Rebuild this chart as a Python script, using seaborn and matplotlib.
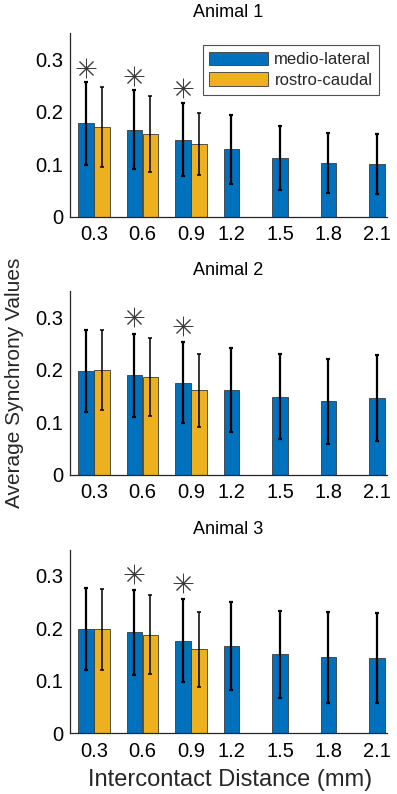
import matplotlib
matplotlib.use('Agg')
import matplotlib.pyplot as plt
import numpy as np
import pandas as pd
import seaborn as sns

distances = ['0.3', '0.6', '0.9', '1.2', '1.5', '1.8', '2.1']
directions = ['medio-lateral', 'rostro-caudal']

# animal 1
a1_ml_mean = [0.178, 0.166, 0.147, 0.128, 0.112, 0.102, 0.101]
a1_ml_sd = [0.079, 0.075, 0.070, 0.065, 0.061, 0.057, 0.057]
a1_rc_mean = [0.171, 0.157, 0.139]
a1_rc_sd = [0.076, 0.072, 0.059]
a1_star_dist = ['0.3', '0.6', '0.9']
a1_star_y = [0.284, 0.268, 0.245]

# animal 2
a2_ml_mean = [0.198, 0.190, 0.176, 0.161, 0.149, 0.140, 0.146]
a2_ml_sd = [0.078, 0.079, 0.077, 0.080, 0.081, 0.081, 0.082]
a2_rc_mean = [0.200, 0.187, 0.161]
a2_rc_sd = [0.076, 0.074, 0.070]
a2_star_dist = ['0.6', '0.9']
a2_star_y = [0.300, 0.284]

# animal 3
a3_ml_mean = [0.198, 0.193, 0.176, 0.166, 0.151, 0.145, 0.144]
a3_ml_sd = [0.078, 0.081, 0.079, 0.084, 0.083, 0.087, 0.086]
a3_rc_mean = [0.198, 0.188, 0.160]
a3_rc_sd = [0.077, 0.075, 0.071]
a3_star_dist = ['0.6', '0.9']
a3_star_y = [0.303, 0.286]

animals = [
    ('Animal 1', a1_ml_mean, a1_ml_sd, a1_rc_mean, a1_rc_sd, a1_star_dist, a1_star_y),
    ('Animal 2', a2_ml_mean, a2_ml_sd, a2_rc_mean, a2_rc_sd, a2_star_dist, a2_star_y),
    ('Animal 3', a3_ml_mean, a3_ml_sd, a3_rc_mean, a3_rc_sd, a3_star_dist, a3_star_y),
]

palette = {'medio-lateral': '#0072BD', 'rostro-caudal': '#EDB120'}
axis_color = '#262626'

sns.set_style('white')
plt.rcParams['font.family'] = ['Liberation Sans', 'DejaVu Sans']

fig = plt.figure(figsize=(3.97, 7.94), dpi=100)
bottoms = [0.7271, 0.4018, 0.0764]
left, width, height = 0.1763, 0.7977, 0.2314

width_total = 0.66
off = width_total / 4  # dodge offset of each hue level

for i, (title, ml_m, ml_s, rc_m, rc_s, st_d, st_y) in enumerate(animals):
    ax = fig.add_axes([left, bottoms[i], width, height])

    df = pd.DataFrame({
        'distance': distances + distances[:len(rc_m)],
        'direction': ['medio-lateral'] * len(ml_m) + ['rostro-caudal'] * len(rc_m),
        'value': ml_m + rc_m,
    })
    sns.barplot(data=df, x='distance', y='value', hue='direction',
                order=distances, hue_order=directions, palette=palette,
                width=width_total, gap=0.06, errorbar=None,
                edgecolor='#3a3a3a', linewidth=0.6, saturation=1,
                legend=(i == 0), ax=ax)

    # error bars
    x_ml = np.arange(len(ml_m)) - off
    x_rc = np.arange(len(rc_m)) + off
    ax.errorbar(x_ml, ml_m, yerr=ml_s, fmt='none', ecolor='black',
                elinewidth=1.6, capsize=1.6, capthick=1.6, zorder=4)
    ax.errorbar(x_rc, rc_m, yerr=rc_s, fmt='none', ecolor='black',
                elinewidth=1.1, capsize=1.6, capthick=1.1, zorder=4)

    # significance asterisks
    x_star = [distances.index(d) - off for d in st_d]
    ax.plot(x_star, st_y, linestyle='none', marker=(8, 2, 0), markersize=14,
            color='#3c3c3c', markeredgewidth=0.7, zorder=5)

    ax.set_xlim(-0.495, 6.035)
    ax.set_ylim(0, 0.35)
    xt = [0, 1, 2] + [k - off for k in range(3, 7)]
    ax.set_xticks(xt)
    ax.set_xticklabels(distances)
    ax.set_yticks([0, 0.1, 0.2, 0.3])
    ax.set_yticklabels(['0', '0.1', '0.2', '0.3'])
    ax.set_xlabel('')
    ax.set_ylabel('')
    ax.set_title(title, fontsize=13, pad=11.5, color='black')

    for s in ['top', 'right']:
        ax.spines[s].set_visible(False)
    for s in ['left', 'bottom']:
        ax.spines[s].set_color(axis_color)
        ax.spines[s].set_linewidth(0.9)
    ax.tick_params(axis='both', direction='in', length=3, width=0.9,
                   color=axis_color, labelsize=14.5, labelcolor='black')
    ax.tick_params(axis='x', pad=6)
    ax.tick_params(axis='y', pad=5)

    if i == 0:
        old = ax.get_legend()
        handles = old.legend_handles
        labels = [t.get_text() for t in old.get_texts()]
        leg = ax.legend(handles, labels, loc='upper right',
                        bbox_to_anchor=(0.976, 0.935), borderaxespad=0,
                        fontsize=12, frameon=True, fancybox=False,
                        handlelength=3.5, handleheight=0.9,
                        labelspacing=0.3, handletextpad=0.4,
                        borderpad=0.4)
        leg.get_frame().set_edgecolor(axis_color)
        leg.get_frame().set_linewidth(0.8)

    if i == 1:
        ax.set_ylabel('Average Synchrony Values', fontsize=15)
        ax.yaxis.set_label_coords(-0.146, 0.5)
    if i == 2:
        ax.set_xlabel('Intercontact Distance (mm)', fontsize=17)
        ax.xaxis.set_label_coords(0.507, -0.192)

fig.savefig('out.png', dpi=100)
